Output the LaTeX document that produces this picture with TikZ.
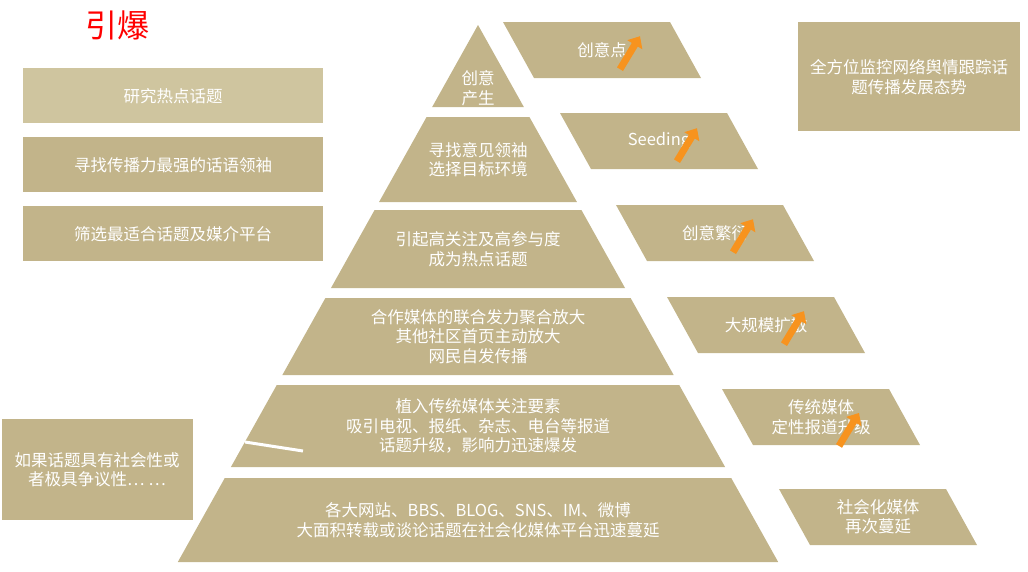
\documentclass[tikz,border=0pt]{standalone}
\usepackage{fontspec}
\setmainfont{Noto Sans CJK SC}
\usetikzlibrary{arrows.meta}
\definecolor{tan}{HTML}{C2B48A}
\definecolor{tanl}{HTML}{CFC59F}
\definecolor{org}{HTML}{F7931E}
\begin{document}
\begin{tikzpicture}[x=1pt,y=-1pt,
  txt/.style={text=white,font=\fontsize{16.5}{19.5}\selectfont,align=center},
  arr/.style={org,line width=7pt,-{Triangle[length=10pt,width=17pt]}}]
\useasboundingbox (0,0) rectangle (1028,571);
\pgfmathsetmacro{\s}{0.559}
\foreach \a/\b/\n in {25/107/l1,117/202/l2,210/288/l3,298/375/l4,385/467/l5,478/562/l6}{
  \fill[tan] ({478-\s*(\a-25)},\a) -- ({478+\s*(\a-25)},\a) -- ({478+\s*(\b-25)},\b) -- ({478-\s*(\b-25)},\b) -- cycle;
  \coordinate (\n) at (478,{(\a+\b)/2});
}
\node[txt] (t1) at (478,88) {创意\\产生};
\node[txt] (t2) at (l2) {寻找意见领袖\\选择目标环境};
\node[txt] (t3) at (l3) {引起高关注及高参与度\\成为热点话题};
\node[txt] (t4) at (l4) {合作媒体的联合发力聚合放大\\其他社区首页主动放大\\网民自发传播};
\node[txt] (t5) at (l5) {植入传统媒体关注要素\\吸引电视、报纸、杂志、电台等报道\\话题升级，影响力迅速爆发};
\node[txt] (t6) at (l6) {各大网站、BBS、BLOG、SNS、IM、微博\\大面积转载或谈论话题在社会化媒体平台迅速蔓延};
\draw[white,line width=3pt] (245,442) -- (303,451);
\foreach \x/\a/\n/\t in {503/22/p1/创意点,560/113/p2/Seeding,616/205/p3/创意繁衍,667/297/p4/大规模扩散,722/389/p5/传统媒体\\定性报道升级,779/489/p6/社会化媒体\\再次蔓延}{
  \fill[tan] (\x,\a) -- (\x+167,\a) -- (\x+198,\a+56) -- (\x+31,\a+56) -- cycle;
  \node[txt] (\n) at (\x+99,\a+28) {\t};
}
\foreach \a in {p1,p2,p3,p4,p5}{
  \coordinate (s\a) at ([xshift=18pt,yshift=-8pt]\a.south);
  \coordinate (e\a) at ([xshift=38pt,yshift=25pt]\a.south);
  \draw[arr] (s\a) -- (e\a);
}
\fill[tanl] (23,68) rectangle (323,123); \node[txt] (b1) at (173,96) {研究热点话题};
\fill[tan] (23,137) rectangle (323,192); \node[txt] (b2) at (173,165) {寻找传播力最强的话语领袖};
\fill[tan] (23,206) rectangle (323,261); \node[txt] (b3) at (173,234) {筛选最适合话题及媒介平台};
\fill[tan] (2,419) rectangle (193,520); \node[txt] (b4) at (97,470) {如果话题具有社会性或\\者极具争议性… …};
\fill[tan] (798,22) rectangle (1020,131); \node[txt] (b5) at (909,77) {全方位监控网络舆情跟踪话\\题传播发展态势};
\node[text=red,font=\fontsize{32}{36}\selectfont] (title) at (117,25) {引爆};
\end{tikzpicture}
\end{document}
